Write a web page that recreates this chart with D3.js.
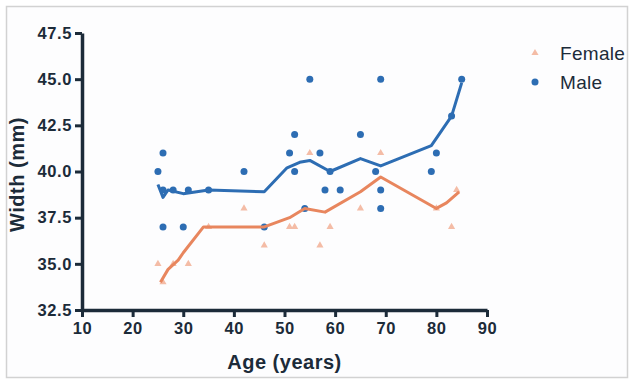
<!DOCTYPE html>
<html>
<head>
<meta charset="utf-8">
<script src="https://cdn.jsdelivr.net/npm/d3@7"></script>
<style>
  body { margin: 0; background: #fff; }
  text { font-family: "Liberation Sans", Arial, sans-serif; }
</style>
</head>
<body>
<div id="chart"></div>
<script>
// raw observations
var maleAge   = [25, 26, 26, 26, 28, 31, 35, 30, 42, 46, 51, 52, 52, 54, 55, 57, 58, 59, 61, 65, 68, 69, 69, 69, 79, 80, 83, 85];
var maleWidth = [40, 41, 37, 39, 39, 39, 39, 37, 40, 37, 41, 42, 40, 38, 45, 41, 39, 40, 39, 42, 40, 45, 39, 38, 40, 41, 43, 45];

var femaleAge   = [25, 26, 28, 31, 35, 42, 46, 51, 52, 55, 57, 59, 65, 69, 80, 83, 84];
var femaleWidth = [35, 34, 35, 35, 37, 38, 36, 37, 37, 41, 36, 37, 38, 41, 38, 37, 39];

// smoothed fit lines
var maleFitAge   = [25, 26, 27, 30, 35, 46, 50.5, 53, 55, 59, 65, 69, 79, 83, 85];
var maleFitWidth = [39.3, 38.6, 39, 38.8, 39, 38.9, 40.2, 40.5, 40.6, 40.0, 40.7, 40.3, 41.4, 43.0, 44.8];

var femaleFitAge   = [25.5, 27, 29, 30, 34, 46, 51, 54, 58, 65, 69, 80, 82, 84.5];
var femaleFitWidth = [34.0, 34.7, 35.2, 35.6, 37, 37, 37.5, 38, 37.8, 38.9, 39.7, 38.0, 38.3, 38.9];

var xTicks = [10, 20, 30, 40, 50, 60, 70, 80, 90];
var yTicks = [32.5, 35.0, 37.5, 40.0, 42.5, 45.0, 47.5];

var seriesNames = ["Female", "Male"];

var width = 634, height = 383;
var inkColor = "#1c2b39";
var maleColor = "#2d6db3";
var femaleLineColor = "#e8865e";
var femalePointColor = "#f4bca6";

var svg = d3.select("#chart")
    .append("svg")
    .attr("width", width)
    .attr("height", height);

svg.append("rect")
    .attr("x", 0).attr("y", 0)
    .attr("width", width).attr("height", height)
    .attr("fill", "#ffffff");

svg.append("rect")
    .attr("x", 6.5).attr("y", 6.5)
    .attr("width", 621).attr("height", 371)
    .attr("fill", "#fdfdfe")
    .attr("stroke", "#d2d2d2")
    .attr("stroke-width", 1.5);

var x = d3.scaleLinear().domain([10, 90]).range([82, 487]);
var y = d3.scaleLinear().domain([32.5, 47.5]).range([310, 33]);

var xAxis = d3.axisBottom(x)
    .tickValues(xTicks)
    .tickFormat(d3.format("d"))
    .tickSize(7)
    .tickSizeOuter(0)
    .tickPadding(5);

var yAxis = d3.axisLeft(y)
    .tickValues(yTicks)
    .tickFormat(d3.format(".1f"))
    .tickSize(7)
    .tickSizeOuter(0)
    .tickPadding(3);

function styleAxis(g) {
    g.select(".domain").attr("stroke", inkColor).attr("stroke-width", 3.5);
    g.selectAll(".tick line").attr("stroke", inkColor).attr("stroke-width", 3);
    g.selectAll(".tick text")
        .attr("fill", inkColor)
        .style("font-size", "16.5px")
        .style("font-weight", "bold")
        .style("letter-spacing", "0.6px");
}

svg.append("g")
    .attr("transform", "translate(0," + y(32.5) + ")")
    .call(xAxis)
    .call(styleAxis);

svg.append("g")
    .attr("transform", "translate(" + x(10) + ",0)")
    .call(yAxis)
    .call(styleAxis);

// axis titles
svg.append("text")
    .attr("x", (x(10) + x(90)) / 2)
    .attr("y", 369)
    .attr("text-anchor", "middle")
    .attr("fill", inkColor)
    .style("font-size", "20px")
    .style("font-weight", "bold")
    .style("letter-spacing", "0.5px")
    .text("Age (years)");

svg.append("text")
    .attr("transform", "translate(24," + ((y(32.5) + y(47.5)) / 2 + 3) + ") rotate(-90)")
    .attr("text-anchor", "middle")
    .attr("fill", inkColor)
    .style("font-size", "20px")
    .style("font-weight", "bold")
    .style("letter-spacing", "0.5px")
    .text("Width (mm)");

var line = d3.line()
    .x(d => x(d[0]))
    .y(d => y(d[1]));

var triangle = d3.symbol().type(d3.symbolTriangle).size(22);

// female points
svg.append("g")
    .selectAll("path")
    .data(d3.zip(femaleAge, femaleWidth))
    .join("path")
    .attr("transform", d => "translate(" + x(d[0]) + "," + y(d[1]) + ")")
    .attr("d", triangle)
    .attr("fill", femalePointColor);

// male points
svg.append("g")
    .selectAll("circle")
    .data(d3.zip(maleAge, maleWidth))
    .join("circle")
    .attr("cx", d => x(d[0]))
    .attr("cy", d => y(d[1]))
    .attr("r", 3.5)
    .attr("fill", maleColor);

// fit lines
svg.append("path")
    .datum(d3.zip(femaleFitAge, femaleFitWidth))
    .attr("fill", "none")
    .attr("stroke", femaleLineColor)
    .attr("stroke-width", 3)
    .attr("stroke-linejoin", "round")
    .attr("d", line);

svg.append("path")
    .datum(d3.zip(maleFitAge, maleFitWidth))
    .attr("fill", "none")
    .attr("stroke", maleColor)
    .attr("stroke-width", 3)
    .attr("stroke-linejoin", "round")
    .attr("d", line);

// legend
var legend = svg.append("g").attr("transform", "translate(535,53)");
seriesNames.forEach(function (name, i) {
    var row = legend.append("g").attr("transform", "translate(0," + (i * 29) + ")");
    if (name === "Female") {
        row.append("path").attr("d", triangle).attr("fill", femalePointColor);
    } else {
        row.append("circle").attr("r", 3.5).attr("fill", maleColor);
    }
    row.append("text")
        .attr("x", 25)
        .attr("y", 7)
        .attr("fill", inkColor)
        .style("font-size", "19px")
        .style("letter-spacing", "0.3px")
        .text(name);
});
</script>
</body>
</html>
